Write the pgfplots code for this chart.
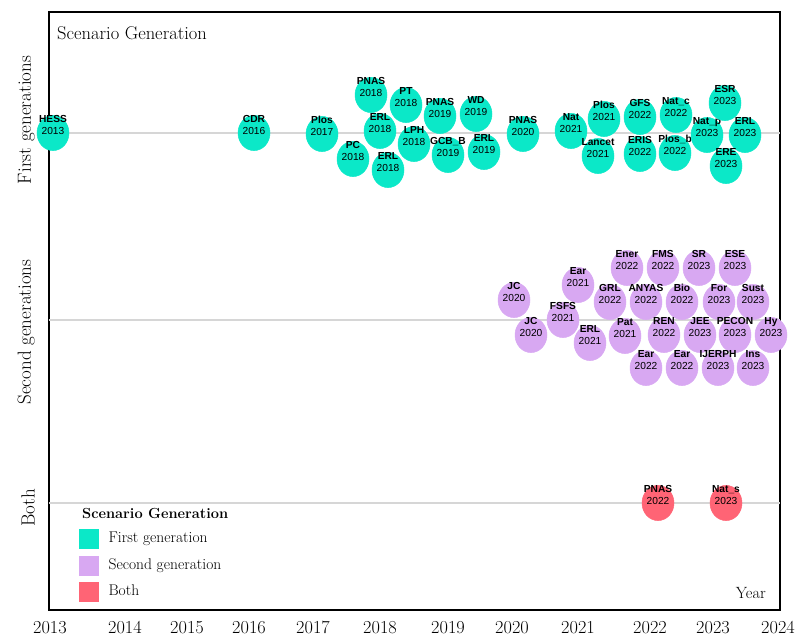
\documentclass[border=0pt]{standalone}
\usepackage{fontspec}
\usepackage{pgfplots}
\usepackage{pgfplotstable}
\pgfplotsset{compat=1.18}
\newfontfamily\arial{Liberation Sans}
\definecolor{gen1}{HTML}{0BE8C8}
\definecolor{gen2}{HTML}{D8A8F2}
\definecolor{genb}{HTML}{FF6475}
\definecolor{gridg}{HTML}{D6D6D6}

% x, y in picture pixels; lab = journal (bold) and year
\pgfplotstableread{
x y lab
53 133 \textbf{HESS}\\2013
254 133 \textbf{CDR}\\2016
322 134 \textbf{Plos}\\2017
371 95 \textbf{PNAS}\\2018
406 105 \textbf{PT}\\2018
380 131 \textbf{ERL}\\2018
414 144 \textbf{LPH}\\2018
353 159 \textbf{PC}\\2018
388 170 \textbf{ERL}\\2018
440 116 \textbf{PNAS}\\2019
476 114 \textbf{WD}\\2019
448 155 \textbf{GCB\textunderscore{}B}\\2019
484 152 \textbf{ERL}\\2019
523 134 \textbf{PNAS}\\2020
571 131 \textbf{Nat}\\2021
604 119 \textbf{Plos}\\2021
598 156 \textbf{Lancet}\\2021
640 117 \textbf{GFS}\\2022
640 154 \textbf{ERIS}\\2022
676 115 \textbf{Nat\textunderscore{}c}\\2022
675 153 \textbf{Plos\textunderscore{}b}\\2022
707 135 \textbf{Nat\textunderscore{}p}\\2023
725 103 \textbf{ESR}\\2023
745 135 \textbf{ERL}\\2023
726 166 \textbf{ERE}\\2023
}\firstgen

\pgfplotstableread{
x y lab
514 300 \textbf{JC}\\2020
531 335 \textbf{JC}\\2020
578 285 \textbf{Ear}\\2021
563 320 \textbf{FSFS}\\2021
590 343 \textbf{ERL}\\2021
610 302 \textbf{GRL}\\2022
627 268 \textbf{Ener}\\2022
663 268 \textbf{FMS}\\2022
699 268 \textbf{SR}\\2023
735 268 \textbf{ESE}\\2023
646 302 \textbf{ANYAS}\\2022
682 302 \textbf{Bio}\\2022
719 302 \textbf{For}\\2023
753 302 \textbf{Sust}\\2023
625 336 \textbf{Pat}\\2021
664 335 \textbf{REN}\\2022
700 335 \textbf{JEE}\\2023
735 335 \textbf{PECON}\\2023
771 335 \textbf{Hy}\\2023
646 368 \textbf{Ear}\\2022
682 368 \textbf{Ear}\\2022
718 368 \textbf{IJERPH}\\2023
753 368 \textbf{Ins}\\2023
}\secondgen

\pgfplotstableread{
x y lab
658 503 \textbf{PNAS}\\2022
726 503 \textbf{Nat\textunderscore{}s}\\2023
}\bothgen

\pgfplotsset{
  bubble/.style={
    only marks, mark=*, mark size=16pt,
    mark options={fill=#1, draw=#1, line width=0.5pt, yscale=1.1},
    point meta=explicit symbolic,
    nodes near coords,
    every node near coord/.append style={font=\arial\fontsize{10.2}{12.3}\selectfont,
      align=center, anchor=center, inner sep=0pt, yshift=8pt, text=black},
    legend image code/.code={\fill[#1] (0pt,-9.5pt) rectangle (19pt,9.5pt);},
  },
}

\begin{document}
\begin{tikzpicture}
\begin{axis}[
  scale only axis, width=731pt, height=598pt,
  xmin=49, xmax=780, ymin=12, ymax=610, y dir=reverse,
  axis line style={line width=1.5pt, black},
  xtick={50,125,187,249,313,380,448,512,578,650,713,778},
  xticklabels={2013,2014,2015,2016,2017,2018,2019,2020,2021,2022,2023,2024},
  ytick={120,332,508},
  yticklabels={First generations,Second generations,Both},
  major tick length=0pt, tick style={draw=none},
  xticklabel style={font=\fontsize{18.3}{22}\selectfont, inner sep=0pt, anchor=north},
  xticklabel shift=11pt,
  yticklabel style={font=\fontsize{19}{23}\selectfont, inner sep=0pt, rotate=90, anchor=south},
  yticklabel shift=14pt,
  clip=false,
  legend cell align=left,
  legend style={at={(axis cs:79,529)}, anchor=north west, draw=none, fill=none,
    inner sep=0pt, row sep=7pt, column sep=10pt,
    font=\fontsize{15.5}{18}\selectfont,
    nodes={inner sep=0pt, text depth=3pt}},
]
\addplot[forget plot, draw=gridg, line width=1.3pt] coordinates {(49,133) (780,133)};
\addplot[forget plot, draw=gridg, line width=1.3pt] coordinates {(49,320) (780,320)};
\addplot[forget plot, draw=gridg, line width=1.3pt] coordinates {(49,503) (780,503)};

\addplot[bubble=gen1] table[x=x, y=y, meta=lab] {\firstgen};
\addlegendentry{First generation}
\addplot[bubble=gen2] table[x=x, y=y, meta=lab] {\secondgen};
\addlegendentry{Second generation}
\addplot[bubble=genb] table[x=x, y=y, meta=lab] {\bothgen};
\addlegendentry{Both}

\node[anchor=west, inner sep=0pt, font=\fontsize{18.5}{22}\selectfont] at (axis cs:57,33) {Scenario Generation};
\node[anchor=west, inner sep=0pt, font=\bfseries\fontsize{14.6}{17}\selectfont] at (axis cs:82,513) {Scenario Generation};
\node[anchor=east, inner sep=0pt, font=\fontsize{16.3}{19}\selectfont] at (axis cs:766,593) {Year};
\path (axis cs:0,0) rectangle (axis cs:800,639);
\end{axis}
\end{tikzpicture}
\end{document}
